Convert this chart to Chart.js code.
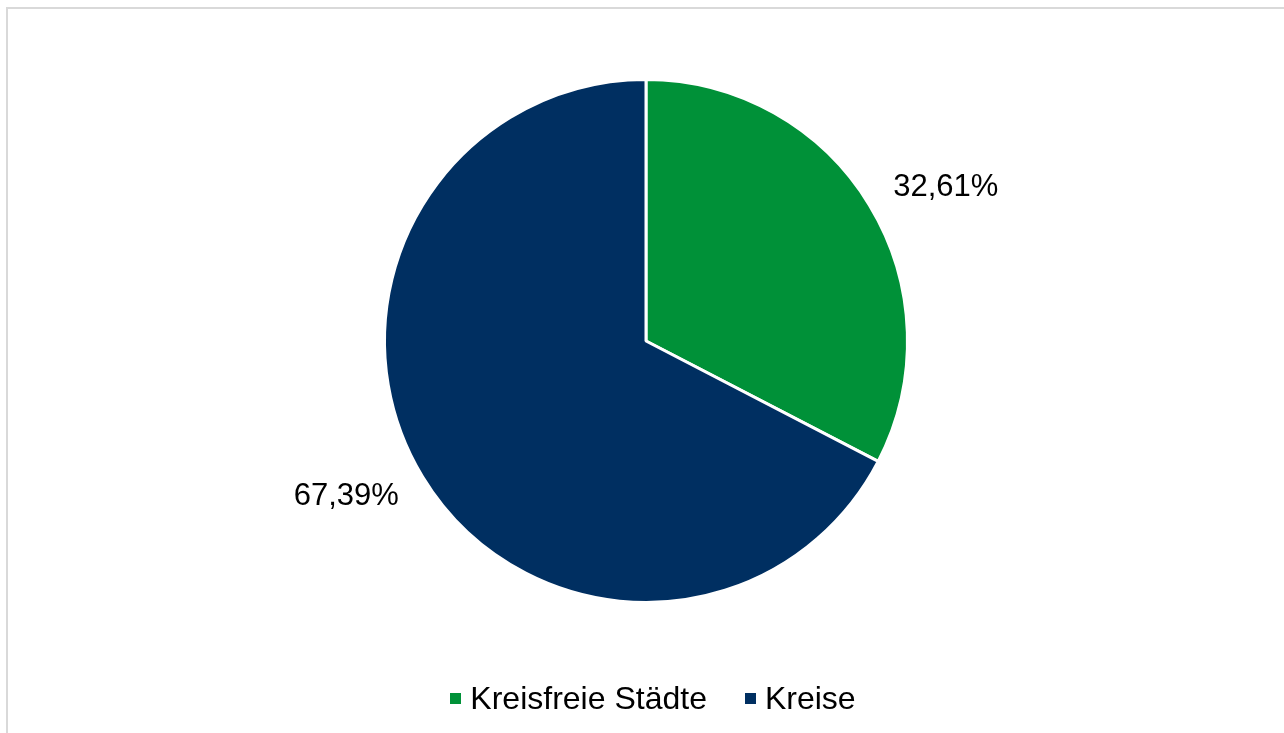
<!DOCTYPE html>
<html>
<head>
<meta charset="utf-8">
<script src="https://cdn.jsdelivr.net/npm/chart.js@4.4.0/dist/chart.umd.min.js"></script>
<style>
  html, body { margin: 0; padding: 0; background: #fff; }
  #wrap { width: 1284px; height: 733px; position: relative; }
  #legend {
    position: absolute; left: 7px; top: 680px; width: 1292px;
    display: flex; justify-content: center; align-items: center;
    font-family: 'Liberation Sans', Arial, sans-serif; font-size: 32px; color: #000;
  }
  #legend .item { display: flex; align-items: center; margin: 0 19px; }
  #legend .box { width: 11px; height: 11px; margin-right: 9px; }
</style>
</head>
<body>
<div id="wrap">
  <canvas id="pie" width="1284" height="733"></canvas>
  <div id="legend"></div>
</div>
<script>
// ------- DATA -------
const categories = ["Kreisfreie Städte", "Kreise"];
const shares = [32.61, 67.39];
const sliceColors = ["#009138", "#002f61"];

// ------- FRAME AROUND THE CHART -------
const framePlugin = {
    id: "frame",
    beforeDraw(chart) {
        const ctx = chart.ctx;
        ctx.save();
        ctx.fillStyle = "#ffffff";
        ctx.fillRect(0, 0, chart.width, chart.height);
        ctx.strokeStyle = "#d9d9d9";
        ctx.lineWidth = 2;
        ctx.strokeRect(7, 8, chart.width + 10, chart.height + 10);
        ctx.restore();
    }
};

// ------- PERCENT LABELS OUTSIDE THE SLICES -------
const labelPlugin = {
    id: "sliceLabels",
    afterDatasetsDraw(chart) {
        const ctx = chart.ctx;
        const meta = chart.getDatasetMeta(0);
        ctx.save();
        ctx.font = "31px 'Liberation Sans', Arial, sans-serif";
        ctx.fillStyle = "#000";
        ctx.textAlign = "center";
        ctx.textBaseline = "middle";
        meta.data.forEach((arc, i) => {
            const p = arc.getProps(["x", "y", "startAngle", "endAngle", "outerRadius"], true);
            const mid = (p.startAngle + p.endAngle) / 2 + 0.07;
            const r = p.outerRadius * 1.29;
            const txt = shares[i].toFixed(2).replace(".", ",") + "%";
            ctx.fillText(txt, p.x + Math.cos(mid) * r, p.y + Math.sin(mid) * r + 1);
        });
        ctx.restore();
    }
};

new Chart(document.getElementById("pie"), {
    type: "pie",
    data: {
        labels: categories,
        datasets: [{
            data: shares,
            backgroundColor: sliceColors,
            borderColor: "#ffffff",
            borderWidth: 3
        }]
    },
    options: {
        responsive: false,
        animation: false,
        layout: { padding: { top: 78, bottom: 129, left: 8, right: 0 } },
        plugins: {
            legend: { display: false },
            tooltip: { enabled: false }
        }
    },
    plugins: [framePlugin, labelPlugin]
});

// ------- LEGEND -------
const legendBox = document.getElementById("legend");
categories.forEach((name, i) => {
    const item = document.createElement("div");
    item.className = "item";
    item.innerHTML = `<span class="box" style="background:${sliceColors[i]}"></span><span>${name}</span>`;
    legendBox.appendChild(item);
});
</script>
</body>
</html>
